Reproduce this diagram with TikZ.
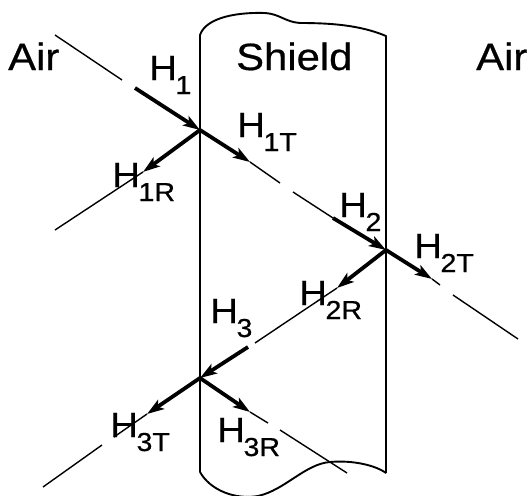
\documentclass[tikz,border=0pt]{standalone}
\usepackage{fontspec}
\setmainfont{Liberation Sans}[FakeStretch=1.1,FakeBold=0.6]
\usetikzlibrary{arrows.meta}
\newcommand{\Hsub}[1]{H\kern-1.5pt\raisebox{-14pt}{\fontsize{26}{26}\selectfont #1}}
\begin{document}
\begin{tikzpicture}[x=1pt,y=-1pt,
  thinline/.style={line width=1.4pt},
  thickarrow/.style={line width=3.8pt, -{Stealth[length=17pt,width=11pt,inset=4pt]}},
  shieldline/.style={line width=1.9pt, line join=round},
  lbl/.style={inner sep=0pt, anchor=base west, font=\fontsize{35}{35}\selectfont},
  ttl/.style={inner sep=0pt, anchor=base west, font=\fontsize{38}{38}\selectfont}]
\useasboundingbox (0,0) rectangle (529,495);
\fill[white] (0,0) rectangle (529,495);

% shield outline
\draw[shieldline] (200,472) -- (200,35) .. controls (205,20) and (230,12) .. (265,13)
  .. controls (280,14) and (285,22) .. (300,23) .. controls (330,23) and (360,25) .. (386,36) -- (386,473);
\draw[shieldline] (200,472) .. controls (210,490) and (235,500) .. (258,496)
  .. controls (285,490) and (305,464) .. (330,462) .. controls (352,460) and (375,465) .. (386,473);

% interface points
\coordinate (P1) at (200,130);
\coordinate (P2) at (386,250);
\coordinate (P3) at (200,378);

% incident H1
\coordinate (a0) at (55,35);
\coordinate (a1) at (122,80);
\coordinate (a2) at (135,88);
\draw[thinline] (a0) -- (a1);
\draw[thickarrow] (a2) -- (P1);

% H1T and H2
\coordinate (t1) at (250,162);
\coordinate (t1b) at (280,183);
\coordinate (t1c) at (293,192);
\coordinate (t1d) at (333,218);
\draw[thickarrow] (P1) -- (t1);
\draw[thinline] (t1) -- (t1b);
\draw[thinline] (t1c) -- (t1d);
\draw[thickarrow] (t1d) -- (P2);

% H1R
\coordinate (r1) at (143,172);
\coordinate (r1e) at (55,230);
\draw[thickarrow] (P1) -- (r1);
\draw[thinline] (r1) -- (r1e);

% H2T
\coordinate (t2) at (432,279);
\coordinate (t2b) at (440,285);
\coordinate (t2c) at (453,295);
\coordinate (t2d) at (518,339);
\draw[thickarrow] (P2) -- (t2);
\draw[thinline] (t2) -- (t2b);
\draw[thinline] (t2c) -- (t2d);

% H2R and H3
\coordinate (r2) at (337,288);
\coordinate (r2e) at (255,343);
\coordinate (h3s) at (248,347);
\draw[thickarrow] (P2) -- (r2);
\draw[thinline] (r2) -- (r2e);
\draw[thickarrow] (h3s) -- (P3);

% H3T
\coordinate (t3) at (147,414);
\coordinate (t3b) at (114,437);
\coordinate (t3c) at (102,445);
\coordinate (t3d) at (43,487);
\draw[thickarrow] (P3) -- (t3);
\draw[thinline] (t3) -- (t3b);
\draw[thinline] (t3c) -- (t3d);

% H3R
\coordinate (r3) at (250,412);
\coordinate (r3b) at (268,423);
\coordinate (r3c) at (280,430);
\coordinate (r3d) at (347,473);
\draw[thickarrow] (P3) -- (r3);
\draw[thinline] (r3) -- (r3b);
\draw[thinline] (r3c) -- (r3d);

% titles
\node[ttl] (airL) at (8,70) {Air};
\node[ttl] (shield) at (236,70) {Shield};
\node[ttl] (airR) at (476,70) {Air};

% labels
\node[lbl] (lH1) at (149,80) {\Hsub{1}};
\node[lbl] (lH1T) at (237,137) {\Hsub{1T}};
\node[lbl] (lH1R) at (112,187) {\Hsub{1R}};
\node[lbl] (lH2) at (339,217) {\Hsub{2}};
\node[lbl] (lH2T) at (414,258) {\Hsub{2T}};
\node[lbl] (lH2R) at (299,305) {\Hsub{2R}};
\node[lbl] (lH3) at (210,323) {\Hsub{3}};
\node[lbl] (lH3T) at (110,437) {\Hsub{3T}};
\node[lbl] (lH3R) at (217,442) {\Hsub{3R}};
\end{tikzpicture}
\end{document}
